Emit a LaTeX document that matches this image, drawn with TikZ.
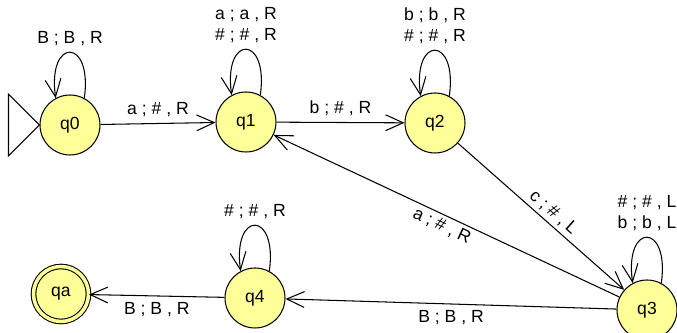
\documentclass[tikz,border=0pt]{standalone}
\usepackage{fontspec}
\setmainfont{Liberation Sans}
\usetikzlibrary{arrows.meta}
\definecolor{stateyellow}{RGB}{255,255,153}
\begin{document}
\begin{tikzpicture}[x=0.02cm, y=-0.02cm, line width=0.6pt,
    state/.style={circle, draw, fill=stateyellow, minimum size=1.2cm, inner sep=0pt},
    accepting/.style={state, double=stateyellow, double distance=2pt, minimum size=1.1cm},
    trans/.style={-{Straight Barb[length=10pt,width=9pt]}},
    selfloop/.style={trans, out=82, in=98, looseness=5.5}]
    \useasboundingbox (0,0) rectangle (677,333);
    % states
    \node[state] (q0) at (70,125) {q0};
    \node[state] (q1) at (246,122) {q1};
    \node[state] (q2) at (435,123) {q2};
    \node[state] (q3) at (647,310) {q3};
    \node[state] (q4) at (255,298) {q4};
    \node[accepting] (qa) at (61,294) {qa};
    % start marker
    \draw (q0.west) -- ++(-31,31) -- ++(0,-62) -- cycle;
    % transitions
    \draw[trans] (q0) -- node[above] {a ; \# , R} (q1);
    \draw[trans] (q1) -- node[above] {b ; \# , R} (q2);
    \draw[trans] (q2) -- node[sloped, above, pos=0.53, inner sep=2pt] {c ; \# , L} (q3);
    \draw[trans] (q3) -- node[sloped, below, pos=0.5, inner sep=2pt] {a ; \# , R} (q1);
    \draw[trans] (q3) -- node[below, pos=0.5] {B ; B , R} (q4);
    \draw[trans] (q4) -- node[below] {B ; B , R} (qa);
    % self loops
    \draw[selfloop] (q0.62) to node[above] {B ; B , R} (q0.118);
    \draw[selfloop] (q1.62) to node[above, align=center] {a ; a , R\\\# ; \# , R} (q1.118);
    \draw[selfloop] (q2.62) to node[above, align=center] {b ; b , R\\\# ; \# , R} (q2.118);
    \draw[selfloop] (q3.62) to node[above, align=center] {\# ; \# , L\\b ; b , L} (q3.118);
    \draw[selfloop] (q4.62) to node[above] {\# ; \# , R} (q4.118);
\end{tikzpicture}
\end{document}
